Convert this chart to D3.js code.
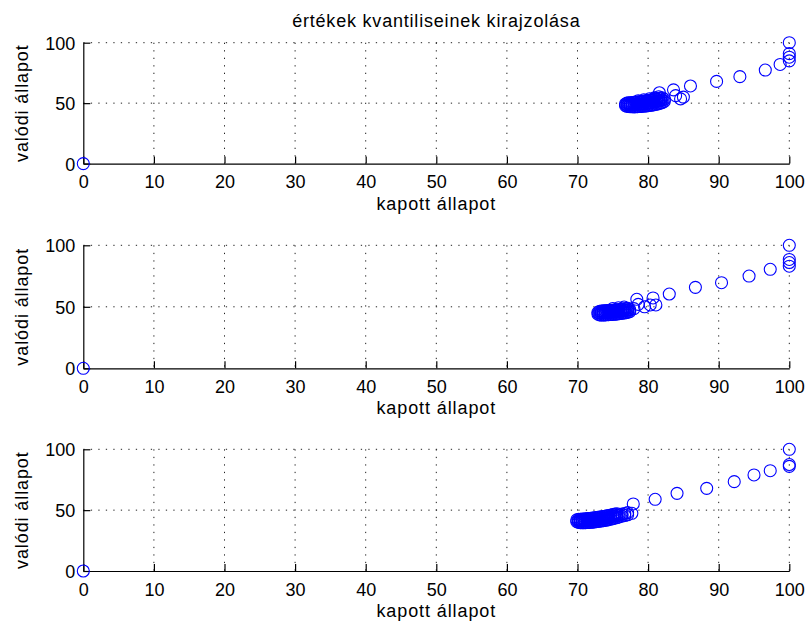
<!DOCTYPE html>
<html>
<head>
<meta charset="utf-8">
<script src="https://cdn.jsdelivr.net/npm/d3@7"></script>
<style>
  body { margin: 0; background: #fff; }
  svg text { font-family: "Liberation Sans", Arial, sans-serif; fill: #000; }
</style>
</head>
<body>
<svg id="chart" width="809" height="632"></svg>
<script>
// Labels and ticks
const chartTitle = "értékek kvantiliseinek kirajzolása";
const xLabel = "kapott állapot";
const yLabel = "valódi állapot";
const xTicks = [0, 10, 20, 30, 40, 50, 60, 70, 80, 90, 100];
const yTicks = [0, 50, 100];

// Panel 1 quantile pairs
const kapott1 = [0,
  76.8,76.8,
  77.0,77.0,77.0, 77.25,77.25,77.25, 77.5,77.5,77.5, 77.75,77.75,77.75,
  78.0,78.0,78.0, 78.25,78.25,78.25, 78.5,78.5,78.5, 78.75,78.75,78.75,
  79.0,79.0,79.0, 79.25,79.25,79.25, 79.5,79.5,79.5, 79.75,79.75,79.75,
  80.0,80.0,80.0, 80.25,80.25,80.25, 80.5,80.5,80.5, 80.75,80.75,80.75,
  81.0,81.0,81.0, 81.25,81.25,81.25, 81.5,81.5,81.5, 81.75,81.75,81.75,
  82.0,82.0,82.0, 82.3,82.3,
  78.6,79.4,80.2,80.9,81.5,
  81.6,83.6,83.9,84.6,85.0,86.0,89.7,93.0,96.6,98.7,100,100,100,100];
const valodi1 = [0,
  48.0,49.3,
  47.4,48.6,50.0, 47.2,48.7,50.2, 47.0,48.5,50.3, 47.1,48.8,50.5,
  46.9,48.6,50.6, 47.0,48.9,50.8, 47.1,49.0,51.0, 47.2,49.1,51.1,
  47.3,49.3,51.3, 47.4,49.4,51.5, 47.6,49.6,51.7, 47.7,49.8,51.9,
  47.9,50.0,52.1, 48.1,50.2,52.4, 48.3,50.5,52.6, 48.6,50.8,52.9,
  48.9,51.1,53.2, 49.2,51.4,53.5, 49.6,51.8,53.8, 50.0,52.2,54.2,
  50.5,52.6,54.5, 51.5,53.2,
  52.0,52.8,53.6,54.4,55.3,
  58.6,61.0,56.2,53.5,55.0,64.2,68.0,71.9,77.4,82.0,85,88,91,100];

// Panel 2 quantile pairs
const kapott2 = [0,
  72.9,72.9,
  73.15,73.15,73.15, 73.4,73.4,73.4, 73.65,73.65,73.65, 73.9,73.9,73.9,
  74.15,74.15,74.15, 74.4,74.4,74.4, 74.65,74.65,74.65, 74.9,74.9,74.9,
  75.15,75.15,75.15, 75.4,75.4,75.4, 75.65,75.65,75.65, 75.9,75.9,75.9,
  76.15,76.15,76.15, 76.4,76.4,76.4, 76.65,76.65,76.65, 76.9,76.9,76.9,
  77.15,77.15,77.15, 77.4,77.4,
  75.0,75.8,76.6,
  78.0,78.4,78.6,79.5,80.3,80.7,81.1,83.0,86.7,90.4,94.3,97.3,100,100,100,100];
const valodi2 = [0,
  44.0,45.5,
  43.4,44.9,46.4, 43.3,45.0,46.6, 43.3,45.1,46.7, 43.4,45.2,46.8,
  43.5,45.3,46.9, 43.6,45.4,47.0, 43.7,45.5,47.1, 43.8,45.6,47.2,
  43.9,45.7,47.3, 44.0,45.8,47.4, 44.2,46.0,47.6, 44.4,46.2,47.8,
  44.6,46.4,48.0, 44.8,46.6,48.2, 45.0,46.8,48.4, 45.3,47.0,48.6,
  45.6,47.3,48.8, 46.0,47.6,
  48.6,49.2,49.8,
  48.5,56.1,52.0,50.0,51.5,57.2,51.5,60.4,65.8,69.6,75.0,80.5,83,86,88.5,100];

// Panel 3 quantile pairs
const kapott3 = [0,
  69.9,69.9,
  70.15,70.15,70.15, 70.4,70.4,70.4, 70.65,70.65,70.65, 70.9,70.9,70.9,
  71.15,71.15,71.15, 71.4,71.4,71.4, 71.65,71.65,71.65, 71.9,71.9,71.9,
  72.15,72.15,72.15, 72.4,72.4,72.4, 72.65,72.65,72.65, 72.9,72.9,72.9,
  73.15,73.15,73.15, 73.4,73.4,73.4, 73.65,73.65,73.65, 73.9,73.9,73.9,
  74.15,74.15,74.15, 74.4,74.4,74.4, 74.7,74.7,74.7, 75.0,75.0,75.0,
  75.3,75.3,75.3, 75.6,75.6,75.6, 75.9,75.9, 76.3,76.3, 76.7,76.7, 77.1,77.1,
  77.7,77.9,81.0,84.1,88.3,92.2,95.0,97.3,100,100,100];
const valodi3 = [0,
  40.6,42.0,
  39.9,41.2,42.4, 39.7,41.1,42.5, 39.6,41.1,42.6, 39.6,41.2,42.7,
  39.7,41.3,42.9, 39.8,41.4,43.0, 39.9,41.5,43.2, 40.0,41.7,43.4,
  40.1,41.9,43.6, 40.3,42.1,43.8, 40.5,42.3,44.0, 40.7,42.5,44.2,
  40.9,42.7,44.4, 41.1,42.9,44.6, 41.3,43.1,44.8, 41.6,43.4,45.0,
  41.9,43.7,45.3, 42.2,44.0,45.6, 42.6,44.4,46.0, 43.0,44.8,46.3,
  43.4,45.2,46.7, 43.9,45.6,47.1, 44.4,46.1, 45.0,46.7, 45.6,47.3, 46.2,48.0,
  47.4,55.1,58.9,63.8,67.9,73.4,78.9,82.4,86,87.5,100];

const panels = [
  { xs: kapott1, ys: valodi1, top: 42.7, bottom: 163.6 },
  { xs: kapott2, ys: valodi2, top: 245.3, bottom: 368.3 },
  { xs: kapott3, ys: valodi3, top: 449.3, bottom: 571.0 }
];

const svg = d3.select("#chart");
const left = 83.3, right = 789.3;
const fontSize = 18;

const x = d3.scaleLinear().domain([0, 100]).range([left, right]);

svg.append("text")
  .attr("x", (left + right) / 2)
  .attr("y", 27)
  .attr("text-anchor", "middle")
  .style("font-size", fontSize + "px")
  .style("letter-spacing", "0.8px")
  .text(chartTitle);

panels.forEach(p => {
  const y = d3.scaleLinear().domain([0, 100]).range([p.bottom, p.top]);
  const g = svg.append("g");

  // dotted grid
  const grid = g.append("g")
    .attr("stroke", "#222")
    .attr("stroke-width", 1)
    .attr("stroke-dasharray", "1.3,6.2");
  grid.selectAll("line.v").data(xTicks.filter(d => d > 0)).join("line")
    .attr("x1", d => x(d)).attr("x2", d => x(d))
    .attr("y1", y(100)).attr("y2", y(0));
  grid.selectAll("line.h").data(yTicks.filter(d => d > 0)).join("line")
    .attr("x1", x(0)).attr("x2", x(100))
    .attr("y1", d => y(d)).attr("y2", d => y(d));

  // axes, ticks pointing inward
  const xa = g.append("g")
    .attr("transform", `translate(0,${p.bottom})`)
    .call(d3.axisBottom(x).tickValues(xTicks).tickSizeInner(-7).tickSizeOuter(0).tickFormat(d3.format("d")));
  xa.selectAll("text").attr("y", 24.5).attr("dy", null)
    .style("font-size", fontSize + "px");

  const ya = g.append("g")
    .attr("transform", `translate(${left},0)`)
    .call(d3.axisLeft(y).tickValues(yTicks).tickSizeInner(-7).tickSizeOuter(0).tickFormat(d3.format("d")));
  ya.selectAll("text").attr("x", -8).attr("dy", "0.36em")
    .style("font-size", fontSize + "px");

  g.selectAll(".domain, .tick line").attr("stroke", "#000").attr("stroke-width", 1.2);
  g.selectAll(".tick text").attr("font-family", null);

  // labels
  g.append("text")
    .attr("x", (left + right) / 2)
    .attr("y", p.bottom + 46)
    .attr("text-anchor", "middle")
    .style("font-size", fontSize + "px")
    .style("letter-spacing", "0.9px")
    .text(xLabel);

  g.append("text")
    .attr("transform", `translate(28,${(p.top + p.bottom) / 2}) rotate(-90)`)
    .attr("text-anchor", "middle")
    .style("font-size", fontSize + "px")
    .style("letter-spacing", "0.9px")
    .text(yLabel);

  // quantile markers
  g.append("g")
    .attr("fill", "none")
    .attr("stroke", "#0000ff")
    .attr("stroke-width", 1.1)
    .selectAll("circle")
    .data(p.xs.map((v, i) => [v, p.ys[i]]))
    .join("circle")
    .attr("cx", d => x(d[0]))
    .attr("cy", d => y(d[1]))
    .attr("r", 6);
});
</script>
</body>
</html>
